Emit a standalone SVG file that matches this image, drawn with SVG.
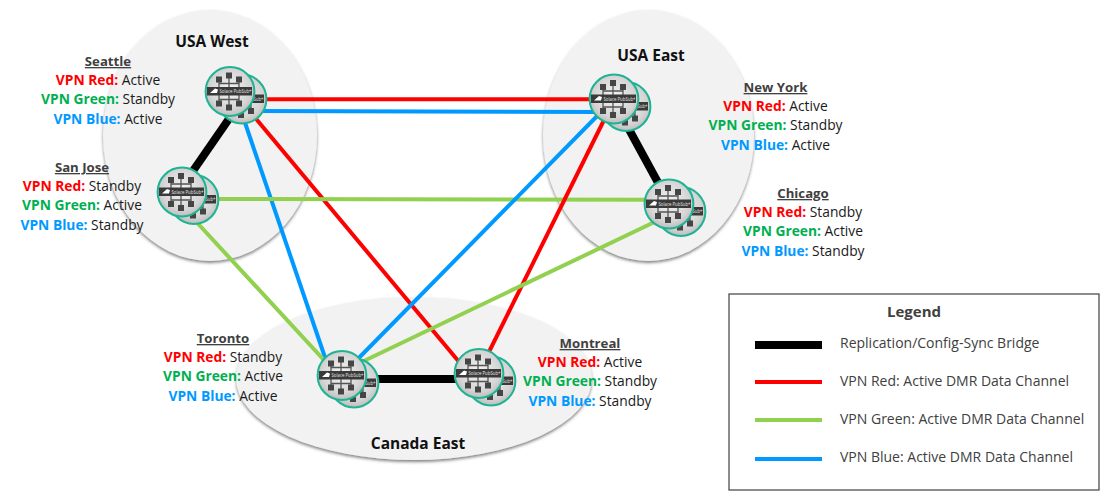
<svg xmlns="http://www.w3.org/2000/svg" width="1110" height="499" viewBox="0 0 1110 499">
<style>
text{font-family:"Open Sans","Noto Sans","Liberation Sans",sans-serif;font-size:13.8px;fill:#1a1a1a;text-anchor:middle}
.t{font-weight:700;font-size:13.2px;fill:#404040;text-decoration:underline}
.r{font-weight:700;fill:#ff0000}
.g{font-weight:700;fill:#00b050}
.b{font-weight:700;fill:#0099ff}
.h{font-weight:700;font-size:15.5px;fill:#111}
.lg{fill:#404040;text-anchor:start;font-size:14px}
.c{fill:none;stroke-width:4}
.cr{stroke:#ff0000}.cg{stroke:#92d050}.cb{stroke:#0099ff}.ck{stroke:#000;stroke-width:8}
.site{fill:#f2f2f2;filter:url(#sh)}
.ring{fill:url(#rg);stroke:#1fb394;stroke-width:2}
.sq{fill:#454545}
.ln{stroke:#555;stroke-width:1.3}
.bar{fill:#3a3a3a}
.pt{font-size:4.6px;fill:#e8e8e8;text-anchor:start}
</style>
<defs>
<filter id="sh" x="-10%" y="-10%" width="120%" height="120%"><feDropShadow dx="0" dy="2" stdDeviation="1.6" flood-color="#444" flood-opacity=".65"/></filter>
<radialGradient id="rg" cx=".5" cy=".45" r=".6"><stop offset="0" stop-color="#f4f4f4"/><stop offset=".7" stop-color="#d4d4d4"/><stop offset="1" stop-color="#b4b4b4"/></radialGradient>
<g id="disc">
<circle class="ring" r="24.4"/>
<path class="ln" d="M-11-12V12M-1-16V16M9-12V12M-11-8H9M-11 8H9"/>
<rect class="sq" x="-14" y="-15" width="6" height="6"/><rect class="sq" x="-4" y="-19" width="6" height="6"/><rect class="sq" x="6" y="-15" width="6" height="6"/>
<rect class="sq" x="-14" y="9" width="6" height="6"/><rect class="sq" x="-4" y="13" width="6" height="6"/><rect class="sq" x="6" y="9" width="6" height="6"/>
<rect class="bar" x="-23" y="-4.500" width="45" height="8.500"/>
<path d="M-20 1.500l5-4.500 3 1-1 3.500z" fill="#fff"/>
<text class="pt" x="-10.500" y="1.500" textLength="32" lengthAdjust="spacingAndGlyphs">Solace PubSub+</text>
</g>
<g id="node"><use href="#disc" x="12" y="7.500"/><use href="#disc"/></g>
</defs>
<rect width="1110" height="499" fill="#fff"/>
<g id="sites">
<ellipse class="site" cx="210" cy="135.500" rx="107" ry="125.500"/>
<ellipse class="site" cx="648.500" cy="135.500" rx="105.500" ry="125.500"/>
<ellipse class="site" cx="414" cy="378.500" rx="178" ry="81.500"/>
</g>
<g id="connectors">
<path class="c ck" d="M242 100L186.700 180"/>
<path class="c ck" d="M613 100L667.500 200"/>
<path class="c ck" d="M370 379H465"/>
<path class="c cr" d="M250 99.300H600"/>
<path class="c cb" d="M255 111L600 112"/>
<path class="c cr" d="M245 105.600L470 375"/>
<path class="c cb" d="M240 108L331 375"/>
<path class="c cg" d="M210 199L655 199.700"/>
<path class="c cr" d="M610 108L480 370"/>
<path class="c cb" d="M606 107L345 372"/>
<path class="c cg" d="M190 215L335 372"/>
<path class="c cg" d="M665 217L345 370"/>
</g>
<g id="usa-west"><text class="h" x="212" y="47">USA West</text></g>
<g id="usa-east"><text class="h" x="651" y="61">USA East</text></g>
<g id="canada-east"><text class="h" x="418" y="449">Canada East</text></g>
<g id="seattle"><use href="#node" x="230" y="91.500"/>
<text class="t" x="108" y="66">Seattle</text>
<text x="108" y="85"><tspan class="r">VPN Red:</tspan> Active</text>
<text x="108" y="104"><tspan class="g">VPN Green:</tspan> Standby</text>
<text x="108" y="124"><tspan class="b">VPN Blue:</tspan> Active</text></g>
<g id="san-jose"><use href="#node" x="182" y="192"/>
<text class="t" x="82" y="172">San Jose</text>
<text x="82" y="191"><tspan class="r">VPN Red:</tspan> Standby</text>
<text x="82" y="210"><tspan class="g">VPN Green:</tspan> Active</text>
<text x="82" y="230"><tspan class="b">VPN Blue:</tspan> Standby</text></g>
<g id="new-york"><use href="#node" x="614" y="99"/>
<text class="t" x="775.500" y="92">New York</text>
<text x="775.500" y="111"><tspan class="r">VPN Red:</tspan> Active</text>
<text x="775.500" y="130"><tspan class="g">VPN Green:</tspan> Standby</text>
<text x="775.500" y="150"><tspan class="b">VPN Blue:</tspan> Active</text></g>
<g id="chicago"><use href="#node" x="669" y="204"/>
<text class="t" x="803" y="198">Chicago</text>
<text x="803" y="217"><tspan class="r">VPN Red:</tspan> Standby</text>
<text x="803" y="236"><tspan class="g">VPN Green:</tspan> Active</text>
<text x="803" y="256"><tspan class="b">VPN Blue:</tspan> Standby</text></g>
<g id="toronto"><use href="#node" x="342" y="375.500"/>
<text class="t" x="223" y="343">Toronto</text>
<text x="223" y="362"><tspan class="r">VPN Red:</tspan> Standby</text>
<text x="223" y="381"><tspan class="g">VPN Green:</tspan> Active</text>
<text x="223" y="401"><tspan class="b">VPN Blue:</tspan> Active</text></g>
<g id="montreal"><use href="#node" x="479" y="373.500"/>
<text class="t" x="590" y="348">Montreal</text>
<text x="590" y="367"><tspan class="r">VPN Red:</tspan> Active</text>
<text x="590" y="386"><tspan class="g">VPN Green:</tspan> Standby</text>
<text x="590" y="406"><tspan class="b">VPN Blue:</tspan> Standby</text></g>
<g id="legend">
<rect x="729" y="294" width="370" height="196" fill="#fff" stroke="#404040" stroke-width="1.200"/>
<text x="914" y="317" font-weight="700" style="font-size:15px;fill:#404040">Legend</text>
<path class="c ck" d="M755 345H822"/><path class="c cr" d="M755 382H822"/><path class="c cg" d="M755 420H822"/><path class="c cb" d="M755 459H822"/>
<text class="lg" x="840" y="348">Replication/Config-Sync Bridge</text>
<text class="lg" x="840" y="386">VPN Red: Active DMR Data Channel</text>
<text class="lg" x="840" y="424">VPN Green: Active DMR Data Channel</text>
<text class="lg" x="840" y="462">VPN Blue: Active DMR Data Channel</text>
</g>
</svg>
